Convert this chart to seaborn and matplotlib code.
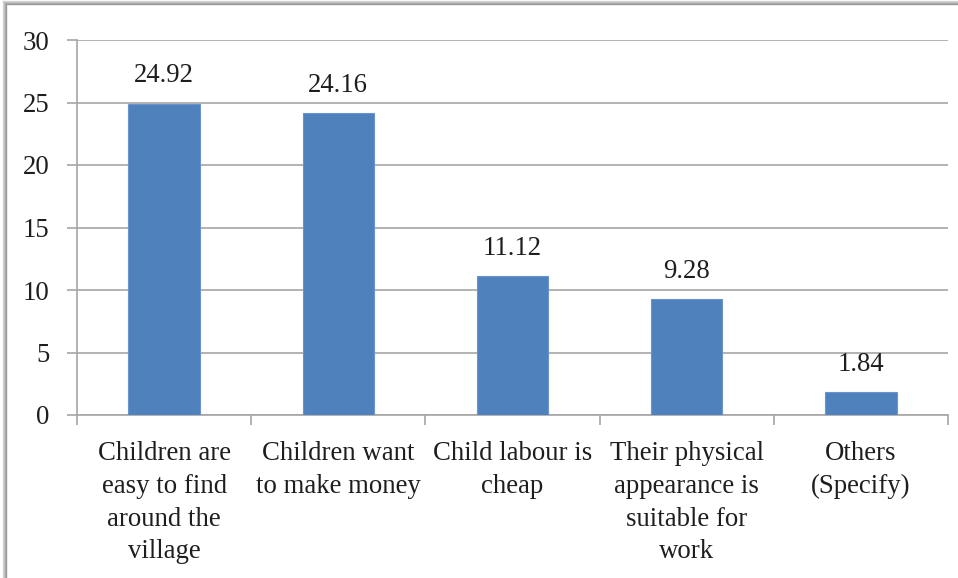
import matplotlib
matplotlib.use("Agg")
import matplotlib.pyplot as plt
import seaborn as sns
import pandas as pd
from matplotlib.lines import Line2D

categories = [
    "Children are\neasy to find\naround the\nvillage",
    "Children want\nto make money",
    "Child labour is\ncheap",
    "Their physical\nappearance is\nsuitable for\nwork",
    "Others\n(Specify)",
]
values = [24.92, 24.16, 11.12, 9.28, 1.84]
value_labels = ["24.92", "24.16", "11.12", "9.28", "1.84"]
y_ticks = [0, 5, 10, 15, 20, 25, 30]

SERIF = "Liberation Serif"
plt.rcParams["font.family"] = "serif"
plt.rcParams["font.serif"] = [SERIF, "DejaVu Serif"]

FS = 19.3
TXT = "#1E1E1E"
W, H = 958, 578
fig = plt.figure(figsize=(W / 100, H / 100), dpi=100)
ax = fig.add_axes([77 / W, 1 - 415 / H, (948 - 77) / W, (415 - 40) / H])

df = pd.DataFrame({"cat": categories, "val": values})
sns.barplot(data=df, x="cat", y="val", color="#4F81BD", saturation=1,
            width=0.41, ax=ax, edgecolor="#6A95CC", linewidth=0.8, zorder=3)

ax.set_xlim(-0.5, len(categories) - 0.5)
ax.set_ylim(0, 30)
ax.set_yticks(y_ticks)
ax.set_yticklabels([str(t) for t in y_ticks], fontsize=FS, color=TXT,
                   family=SERIF)
ax.set_xlabel("")
ax.set_ylabel("")
ax.yaxis.grid(True, color="#A6A6A6", linewidth=1.2, zorder=0)
ax.set_axisbelow(True)

for s in ["top", "right"]:
    ax.spines[s].set_visible(False)
ax.spines["left"].set_color("#A6A6A6")
ax.spines["left"].set_linewidth(1.2)
ax.spines["bottom"].set_color("#A6A6A6")
ax.spines["bottom"].set_linewidth(1.2)

ax.tick_params(axis="y", which="major", length=7, width=1.2, color="#A6A6A6",
               pad=13, left=True)
ax.tick_params(axis="x", which="major", length=0, pad=19)
ax.set_xticks(range(len(categories)))
ax.set_xticklabels(categories, fontsize=FS, color=TXT, linespacing=1.4,
                   va="top", family=SERIF)
ax.set_xticks([i - 0.5 for i in range(len(categories) + 1)], minor=True)
ax.tick_params(axis="x", which="minor", length=7, width=1.2, color="#A6A6A6",
               bottom=True, direction="out")

for i, (v, lab) in enumerate(zip(values, value_labels)):
    ax.annotate(lab, xy=(i, v), xytext=(0, 20), textcoords="offset points",
                ha="center", va="center", fontsize=FS, color=TXT,
                family=SERIF)

# outer frame with shadow
for k, c in enumerate(["#D8D8D8", "#C4C4C4", "#B0B0B0", "#9A9A9A"]):
    off = 4 - k
    fig.add_artist(Line2D([(7 - off) / W, (7 - off) / W], [0, 1 - (5 - off) / H],
                          transform=fig.transFigure, color=c, linewidth=1))
    fig.add_artist(Line2D([(7 - off) / W, 1], [1 - (5 - off) / H, 1 - (5 - off) / H],
                          transform=fig.transFigure, color=c, linewidth=1))

fig.savefig("out.png", dpi=100, facecolor="white")
